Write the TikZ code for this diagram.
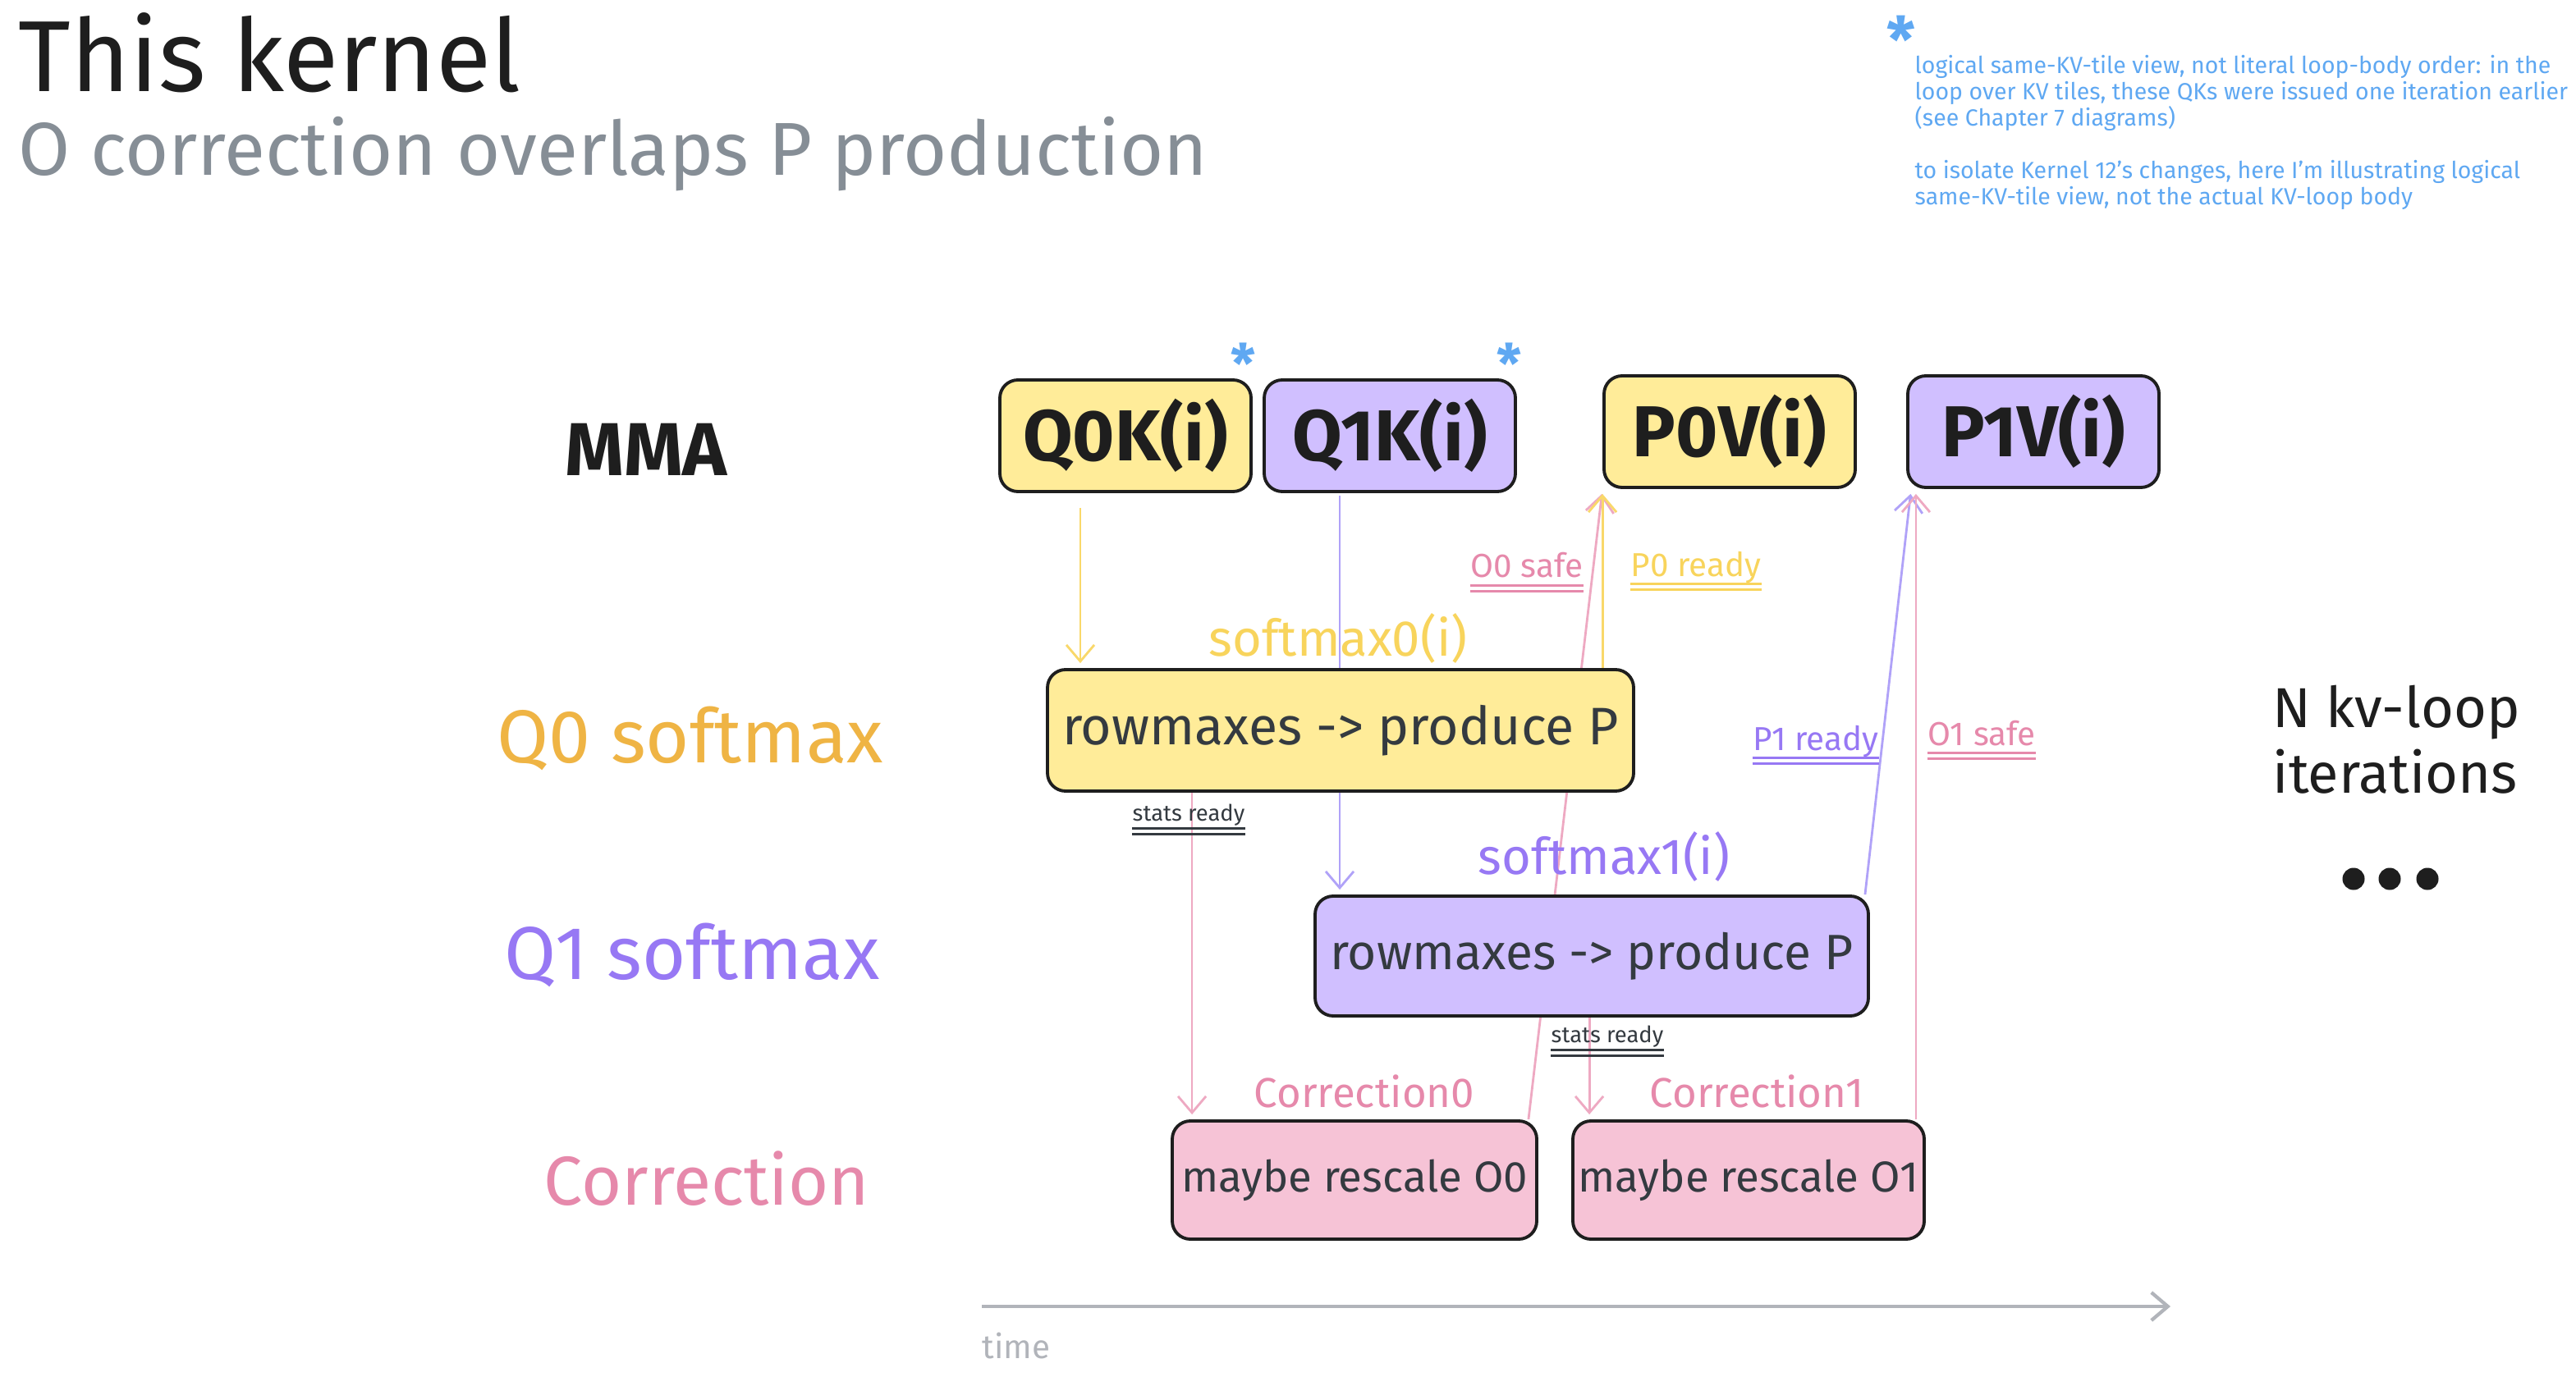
\documentclass[tikz,border=0pt]{standalone}
\usepackage{xcolor}
\usepackage{tikz}
\usepackage{fontspec}
\setmainfont{Fira Sans}
\usetikzlibrary{arrows.meta,backgrounds}

\definecolor{noir}{HTML}{1E1E1E}
\definecolor{sombre}{HTML}{343A40}
\definecolor{gris}{HTML}{868E96}
\definecolor{grisClair}{HTML}{B1B4BA}
\definecolor{jauneFond}{HTML}{FFEC99}
\definecolor{violetFond}{HTML}{D0BFFF}
\definecolor{roseFond}{HTML}{F6C3D6}
\definecolor{jaune}{HTML}{F8D45C}
\definecolor{jauneFonce}{HTML}{EFB444}
\definecolor{jauneTrait}{HTML}{F9D86A}
\definecolor{violetTexte}{HTML}{9778F4}
\definecolor{violetTrait}{HTML}{B0A2F8}
\definecolor{roseTexte}{HTML}{E689AB}
\definecolor{roseTrait}{HTML}{EEA9C2}
\definecolor{bleu}{HTML}{5FA8F2}

\begin{document}
\begin{tikzpicture}
% Styles
\tikzstyle{boite}=[draw=noir,line width=1.1pt,rounded corners=0.22cm,inner sep=0pt]
\tikzstyle{mma}=[boite,minimum width=3.06cm,minimum height=1.36cm,text=noir,font=\fontsize{25}{30}\selectfont\bfseries]
\tikzstyle{tache}=[boite,minimum height=1.46cm,text=sombre,font=\fontsize{17.5}{21}\selectfont]
\tikzstyle{correc}=[boite,minimum height=1.44cm,fill=roseFond,text=sombre,font=\fontsize{15}{18}\selectfont]
\tikzstyle{fleche}=[-{Straight Barb[length=0.2cm,width=0.34cm]},line width=0.8pt]
\tikzstyle{ligne}=[inner sep=0pt,font=\fontsize{26}{30}\selectfont]
\tikzstyle{phase}=[inner sep=0pt,font=\fontsize{17.5}{21}\selectfont]
\tikzstyle{signal}=[inner sep=0pt,anchor=base,font=\fontsize{11.5}{14}\selectfont]
\tikzstyle{stats}=[inner sep=0pt,anchor=base,text=sombre,font=\fontsize{7.8}{9}\selectfont]
\tikzstyle{etoile}=[inner sep=0pt,text=bleu,font=\fontsize{19}{19}\selectfont\bfseries]
% Double soulignement sous une etiquette
\def\Souligne#1#2{\draw[#2,line width=0.9pt] ([yshift=-2.6pt]#1.base west) -- ([yshift=-2.6pt]#1.base east) ([yshift=-4.8pt]#1.base west) -- ([yshift=-4.8pt]#1.base east);}
% Cadre
\begin{pgfonlayer}{background}
\fill[white] (0,0) rectangle (31.38,-16.78);
\end{pgfonlayer}
\useasboundingbox (0,0) rectangle (31.38,-16.78);
% Titres
\node[anchor=base west,inner sep=0pt,text=noir,font=\fontsize{35}{40}\selectfont] (titre) at (0.22,-1.12) {This kernel};
\node[anchor=base west,inner sep=0pt,text=gris,font=\fontsize{26}{30}\selectfont] (soustitre) at (0.22,-2.14) {O correction overlaps P production};
% Note
\node[etoile,font=\fontsize{22}{22}\selectfont\bfseries] (etoileNote) at (23.16,-0.48) {*};
\node[anchor=north west,inner sep=0pt,align=left,text=bleu,font=\fontsize{8.1}{9.1}\selectfont] (note) at (23.32,-0.67) {logical same-KV-tile view, not literal loop-body order: in the\\loop over KV tiles, these QKs were issued one iteration earlier\\(see Chapter 7 diagrams)\\[9.1pt]to isolate Kernel 12's changes, here I'm illustrating logical\\same-KV-tile view, not the actual KV-loop body};
% Lignes
\node[ligne,text=noir,font=\fontsize{26}{30}\selectfont\bfseries] (lMMA) at (7.87,-5.48) {MMA};
\node[ligne,text=jauneFonce] (lQ0) at (8.41,-9.00) {Q0 softmax};
\node[ligne,text=violetTexte] (lQ1) at (8.43,-11.64) {Q1 softmax};
\node[ligne,text=roseTexte,font=\fontsize{24}{28}\selectfont] (lCorr) at (8.61,-14.36) {Correction};
% Noeuds
\node[mma,fill=jauneFond] (Q0K) at (13.71,-5.31) {Q0K(i)};
\node[mma,fill=violetFond] (Q1K) at (16.93,-5.31) {Q1K(i)};
\node[mma,fill=jauneFond] (P0V) at (21.07,-5.26) {P0V(i)};
\node[mma,fill=violetFond] (P1V) at (24.77,-5.26) {P1V(i)};
\node[etoile] (etoileQ0) at (15.14,-4.43) {*};
\node[etoile] (etoileQ1) at (18.38,-4.43) {*};
\node[tache,fill=jauneFond,minimum width=7.14cm,minimum height=1.48cm,font=\fontsize{18.3}{21}\selectfont] (S0) at (16.33,-8.90) {rowmaxes -> produce P};
\node[tache,fill=violetFond,minimum width=6.74cm,font=\fontsize{17.2}{21}\selectfont] (S1) at (19.39,-11.65) {rowmaxes -> produce P};
\node[correc,minimum width=4.44cm] (C0) at (16.50,-14.38) {maybe rescale O0};
\node[correc,minimum width=4.28cm] (C1) at (21.30,-14.38) {maybe rescale O1};
\node[phase,text=jaune] (tS0) at (16.30,-7.78) {softmax0(i)};
\node[phase,text=violetTexte] (tS1) at (19.54,-10.44) {softmax1(i)};
\node[phase,text=roseTexte,font=\fontsize{14.5}{17}\selectfont] (tC0) at (16.62,-13.30) {Correction0};
\node[phase,text=roseTexte,font=\fontsize{14.5}{17}\selectfont] (tC1) at (21.40,-13.30) {Correction1};
% Etiquettes
\node[signal,text=roseTexte] (sO0) at (18.60,-7.04) {O0 safe};
\node[signal,text=jaune] (sP0) at (20.66,-7.02) {P0 ready};
\node[signal,text=violetTexte] (sP1) at (22.12,-9.14) {P1 ready};
\node[signal,text=roseTexte] (sO1) at (24.14,-9.08) {O1 safe};
\node[stats] (st0) at (14.48,-10.00) {stats ready};
\node[stats] (st1) at (19.58,-12.70) {stats ready};
\Souligne{sO0}{roseTexte}
\Souligne{sP0}{jaune}
\Souligne{sP1}{violetTexte}
\Souligne{sO1}{roseTexte}
\Souligne{st0}{sombre}
\Souligne{st1}{sombre}
% Fin de boucle
\node[anchor=north west,inner sep=0pt,align=left,text=noir,font=\fontsize{19.5}{22.8}\selectfont] (boucle) at (27.68,-8.34) {N kv-loop\\iterations};
\foreach \x in {28.67,29.11,29.57}
  \fill[noir] (\x,-10.71) circle (0.135);
% Temps
\coordinate (t0) at (11.96,-15.92);
\coordinate (t1) at (26.44,-15.92);
\draw[fleche,draw=grisClair,line width=1.2pt] (t0) -- (t1);
\node[anchor=base west,inner sep=0pt,text=grisClair,font=\fontsize{11.5}{14}\selectfont] (temps) at (11.96,-16.55) {time};
% Arcs
\begin{pgfonlayer}{background}
\draw[fleche,draw=jauneTrait,shorten <=0.18cm,shorten >=0.06cm] ([xshift=-0.55cm]Q0K.south) -- ([xshift=-0.55cm]Q0K.south |- S0.north);
\draw[fleche,draw=violetTrait,shorten <=0.03cm,shorten >=0.06cm] ([xshift=-0.61cm]Q1K.south) -- ([xshift=-0.61cm]Q1K.south |- S1.north);
\draw[fleche,draw=roseTrait,shorten >=0.06cm] ([xshift=-0.12cm]C0.north east) -- (P0V.south west);
\draw[fleche,draw=jauneTrait,shorten >=0.06cm] (P0V.south west |- S0.north) -- (P0V.south west);
\draw[fleche,draw=violetTrait,shorten >=0.06cm] ([xshift=-0.06cm]S1.north east) -- ([xshift=0.06cm]P1V.south west);
\draw[fleche,draw=roseTrait,shorten >=0.06cm] ([xshift=-0.12cm]C1.north east) -- ([xshift=-0.12cm]C1.north east |- P1V.south);
\draw[fleche,draw=roseTrait,shorten >=0.06cm] ([xshift=0.26cm]C0.north west |- S0.south) -- ([xshift=0.26cm]C0.north west);
\draw[fleche,draw=roseTrait,shorten >=0.06cm] ([xshift=0.22cm]C1.north west |- S1.south) -- ([xshift=0.22cm]C1.north west);
\end{pgfonlayer}
\end{tikzpicture}
\end{document}
